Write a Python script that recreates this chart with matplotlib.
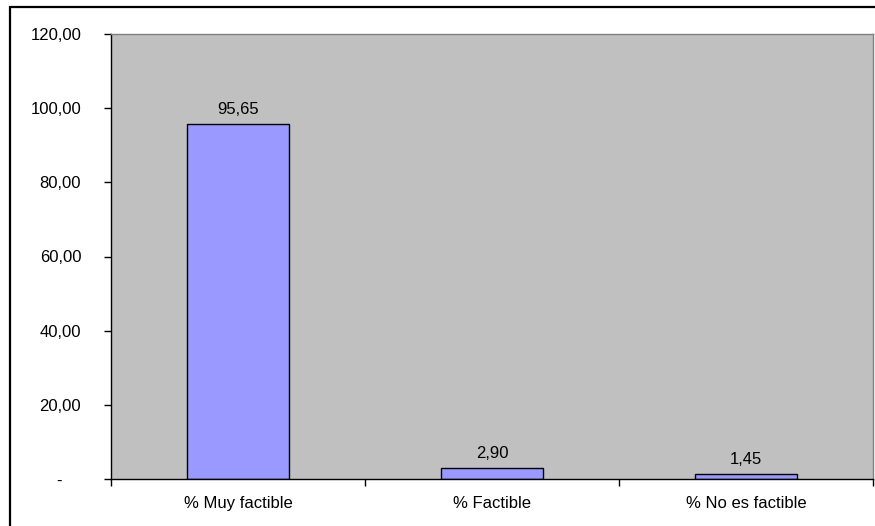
import matplotlib.pyplot as plt
from matplotlib.patches import Rectangle

categories = ['% Muy factible', '% Factible', '% No es factible']
values = [95.65, 2.90, 1.45]
y_ticks = [0, 20, 40, 60, 80, 100, 120]

plt.rcParams['font.family'] = ['Liberation Sans', 'DejaVu Sans']


def fmt_es(v):
    # accounting-style: zero shown as a dash, comma decimal separator
    if v == 0:
        return '-    '
    return f'{v:.2f}'.replace('.', ',')


fig = plt.figure(figsize=(8.75, 5.26), dpi=100)
W, H = 875, 526

# outer chart border (runs off the right/bottom edge)
fig.patches.append(Rectangle((10 / W, -0.1), 1.2, 1 - 7 / H + 0.1,
                             transform=fig.transFigure, fill=False,
                             edgecolor='black', linewidth=1.6))

ax = fig.add_axes([111 / W, 1 - 479 / H, (873 - 111) / W, (479 - 34) / H])
ax.set_facecolor('#C0C0C0')

x = range(len(categories))
bars = ax.bar(x, values, width=0.4, color='#9999FF', edgecolor='black', linewidth=1)
for b, v in zip(bars, values):
    ax.annotate(fmt_es(v), (b.get_x() + b.get_width() / 2, v),
                xytext=(0, 5), textcoords='offset points',
                ha='center', va='bottom', fontsize=12)

ax.set_xlim(-0.5, len(categories) - 0.5)
ax.set_ylim(0, 120)
ax.set_yticks(y_ticks)
ax.set_yticklabels([fmt_es(v) for v in y_ticks], fontsize=12)

# category names centred, tick marks between categories
ax.set_xticks([i - 0.5 for i in range(len(categories) + 1)])
ax.set_xticklabels([])
ax.set_xticks(list(x), minor=True)
ax.set_xticklabels(categories, minor=True, fontsize=12)
ax.tick_params(axis='x', which='major', direction='out', length=5, width=1)
ax.tick_params(axis='x', which='minor', length=0, pad=12)
ax.tick_params(axis='y', direction='out', length=5, width=1, pad=16.5)

ax.spines['left'].set_color('black')
ax.spines['bottom'].set_color('black')
ax.spines['top'].set_color('#808080')
ax.spines['right'].set_color('#808080')
for s in ax.spines.values():
    s.set_linewidth(1)

fig.savefig('out.png', dpi=100)
